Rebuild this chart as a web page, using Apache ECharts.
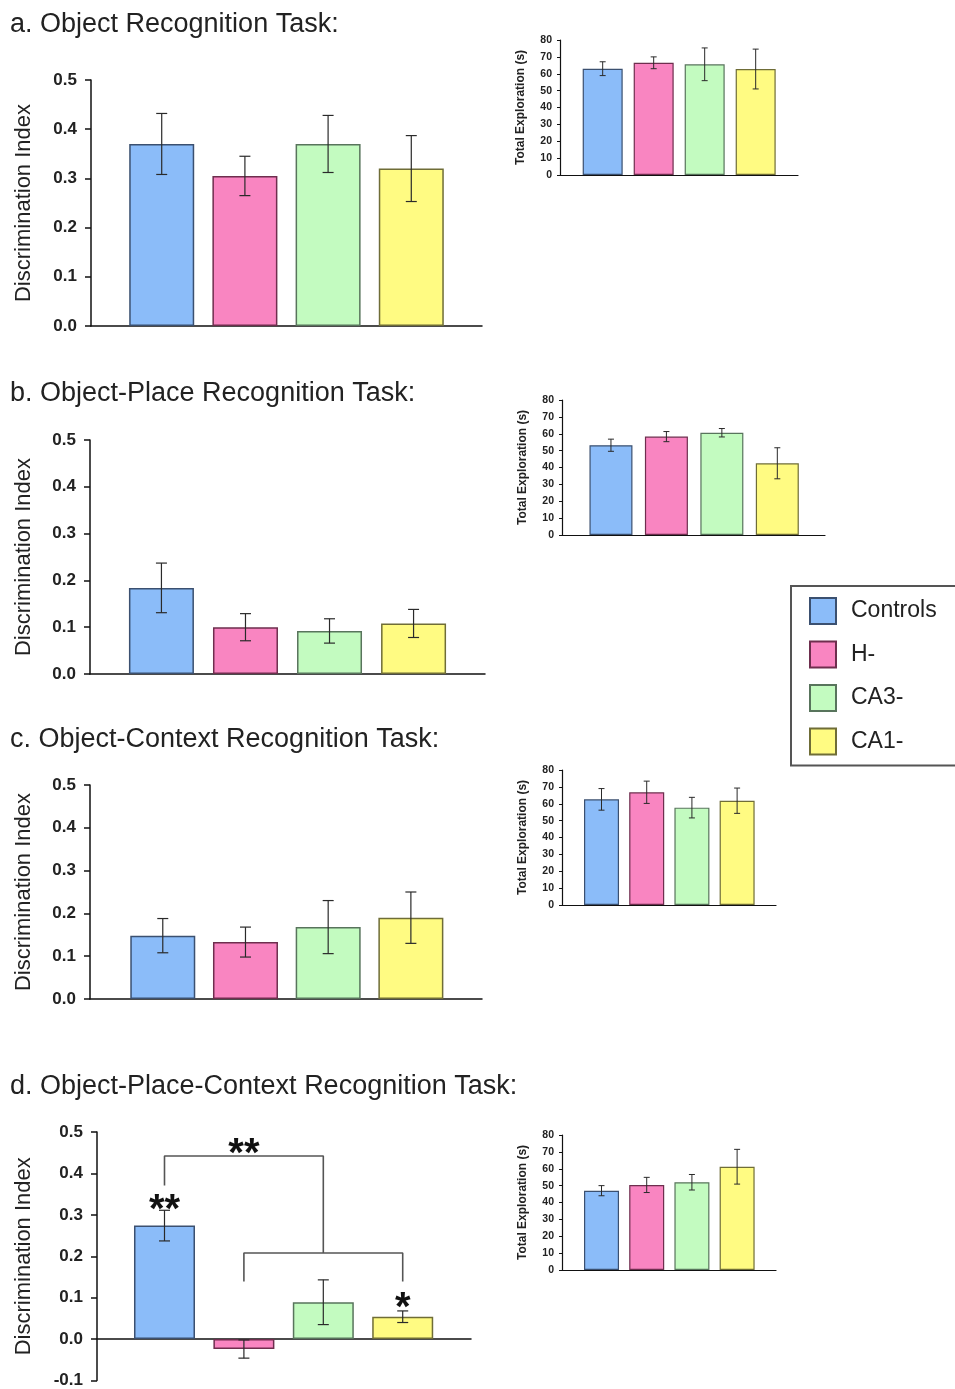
<!DOCTYPE html>
<html><head><meta charset="utf-8">
<script src="https://cdn.jsdelivr.net/npm/echarts@6/dist/echarts.min.js"></script>
<style>html,body{margin:0;padding:0;background:#fff}#c{width:955px;height:1389px}</style>
</head><body><div id="c"></div>
<script>
// ---------- data ----------
const groups = ['Controls', 'H-', 'CA3-', 'CA1-'];
const panelTitles = ['a. Object Recognition Task:', 'b. Object-Place Recognition Task:', 'c. Object-Context Recognition Task:', 'd. Object-Place-Context Recognition Task:'];
const yNameMain = 'Discrimination Index';
const yNameInset = 'Total Exploration (s)';

const diA = [0.370, 0.305, 0.370, 0.320];
const diAErr = [0.062, 0.040, 0.058, 0.067];
const diB = [0.184, 0.100, 0.092, 0.108];
const diBErr = [0.053, 0.029, 0.026, 0.030];
const diC = [0.148, 0.133, 0.168, 0.190];
const diCErr = [0.040, 0.035, 0.062, 0.060];
const diD = [0.274, -0.024, 0.089, 0.054];
const diDErr = [0.037, 0.022, 0.054, 0.014];

const teA = [63.0, 66.5, 65.6, 62.8];
const teAErr = [4.1, 3.5, 9.7, 11.8];
const teB = [53.2, 58.3, 60.6, 42.5];
const teBErr = [3.6, 3.0, 2.5, 9.2];
const teC = [62.6, 66.8, 57.7, 61.8];
const teCErr = [6.4, 6.6, 6.1, 7.5];
const teD = [47.0, 50.4, 52.0, 61.2];
const teDErr = [3.0, 4.5, 4.6, 10.3];

// significance annotations for panel d (group position, DI value)
const bracketUpper = [[1, 0.371], [1, 0.442], [3, 0.442], [3, 0.208]];
const bracketLower = [[2, 0.139], [2, 0.208], [4, 0.208], [4, 0.139]];
const starPos = [[1, 0.330], [2, 0.466], [4, 0.094]];
const starText = ['**', '**', '*'];

// ---------- styles / layout ----------
const fills = ['#8bbcf9', '#f985c1', '#c3fbc0', '#fffb82'];
const borders = ['#3b5070', '#6e2e4e', '#58745c', '#6f6d37'];
const FONT = '"Liberation Sans", Arial, sans-serif';
const AX = '#111';

const mainLayout = [
  {left: 91, top: 80, width: 391, height: 246, xmin: 0.15, xmax: 4.85, bw: 65, ymin: 0, ymax: 0.5, gap: 56},
  {left: 90, top: 440, width: 395, height: 234, xmin: 0.15, xmax: 4.85, bw: 65, ymin: 0, ymax: 0.5, gap: 55},
  {left: 90, top: 785, width: 392, height: 214, xmin: 0.12, xmax: 4.86, bw: 65, ymin: 0, ymax: 0.5, gap: 55},
  {left: 97, top: 1132, width: 374, height: 250, xmin: 0.15, xmax: 4.86, bw: 61, ymin: -0.1, ymax: 0.5, gap: 62}
];
const insetLayout = [
  {left: 560, top: 40, width: 238, height: 135, xmin: 0.163, xmax: 4.83, bw: 40},
  {left: 562, top: 400, width: 263, height: 135, xmin: 0.117, xmax: 4.86, bw: 43},
  {left: 562, top: 770, width: 214, height: 135, xmin: 0.126, xmax: 4.86, bw: 35},
  {left: 562, top: 1135, width: 214, height: 135, xmin: 0.126, xmax: 4.86, bw: 35}
];
const titleCenterY = [23, 392, 738, 1085];

const mainVals = [diA, diB, diC, diD];
const mainErrs = [diAErr, diBErr, diCErr, diDErr];
const insetVals = [teA, teB, teC, teD];
const insetErrs = [teAErr, teBErr, teCErr, teDErr];

const grids = [], xAxes = [], yAxes = [], series = [];

function errRender(cap, lw) {
  return function (params, api) {
    const x = api.value(0), lo = api.value(1), hi = api.value(2);
    const a = api.coord([x, hi]), b = api.coord([x, lo]);
    const st = {stroke: '#2a2a2a', lineWidth: lw};
    return {type: 'group', children: [
      {type: 'line', shape: {x1: a[0], y1: a[1], x2: b[0], y2: b[1]}, style: st},
      {type: 'line', shape: {x1: a[0] - cap / 2, y1: a[1], x2: a[0] + cap / 2, y2: a[1]}, style: st},
      {type: 'line', shape: {x1: b[0] - cap / 2, y1: b[1], x2: b[0] + cap / 2, y2: b[1]}, style: st}
    ]};
  };
}

function addPanel(L, vals, errs, isMain) {
  const gi = grids.length;
  grids.push({left: L.left, top: L.top, width: L.width, height: L.height, containLabel: false});
  xAxes.push({
    type: 'value', gridIndex: gi, min: L.xmin, max: L.xmax,
    axisLine: {show: true, onZero: true, lineStyle: {color: AX, width: isMain ? 1.5 : 1.2}},
    axisTick: {show: false}, axisLabel: {show: false}, splitLine: {show: false}
  });
  yAxes.push(isMain ? {
    type: 'value', gridIndex: gi, min: L.ymin, max: L.ymax, interval: 0.1,
    axisLine: {show: true, onZero: false, lineStyle: {color: AX, width: 1.5}},
    axisTick: {show: true, length: 6, lineStyle: {color: AX, width: 1.5}},
    axisLabel: {formatter: v => (Math.abs(v) < 1e-9 ? 0 : v).toFixed(1), fontSize: 17, fontWeight: 'bold', color: '#222', margin: 14, fontFamily: FONT},
    splitLine: {show: false},
    name: yNameMain, nameLocation: 'middle', nameGap: L.gap,
    nameTextStyle: {fontSize: 22, color: '#222', fontFamily: FONT}
  } : {
    type: 'value', gridIndex: gi, min: 0, max: 80, interval: 10,
    axisLine: {show: true, onZero: false, lineStyle: {color: AX, width: 1.2}},
    axisTick: {show: true, length: 3, lineStyle: {color: AX, width: 1}},
    axisLabel: {fontSize: 10.5, fontWeight: 'bold', color: '#222', margin: 8, fontFamily: FONT},
    splitLine: {show: false},
    name: yNameInset, nameLocation: 'middle', nameGap: 33,
    nameTextStyle: {fontSize: 12, fontWeight: 'bold', color: '#222', fontFamily: FONT}
  });
  series.push({
    type: 'bar', xAxisIndex: gi, yAxisIndex: gi, barWidth: L.bw, silent: true,
    data: vals.map((v, i) => ({value: [i + 1, v], itemStyle: {color: fills[i], borderColor: borders[i], borderWidth: isMain ? 1.5 : 1.2}}))
  });
  series.push({
    type: 'custom', xAxisIndex: gi, yAxisIndex: gi, silent: true, z: 5,
    renderItem: errRender(isMain ? 11 : 6, isMain ? 1.2 : 1),
    data: vals.map((v, i) => [i + 1, v - errs[i], v + errs[i]])
  });
  return gi;
}

const mainIdx = [];
for (let p = 0; p < 4; p++) {
  mainIdx.push(addPanel(mainLayout[p], mainVals[p], mainErrs[p], true));
  addPanel(insetLayout[p], insetVals[p], insetErrs[p], false);
}

// significance marks on panel d
const dG = mainIdx[3];
[bracketUpper, bracketLower].forEach(br => series.push({
  type: 'line', xAxisIndex: dG, yAxisIndex: dG, data: br, symbol: 'none', silent: true,
  lineStyle: {color: '#555', width: 1.6}, z: 4
}));
series.push({
  type: 'custom', xAxisIndex: dG, yAxisIndex: dG, silent: true, z: 6,
  renderItem: function (params, api) {
    const p = api.coord([api.value(0), api.value(1)]);
    return {type: 'text', x: p[0], y: p[1] + 9, style: {text: starText[params.dataIndex], fontSize: 40, fontWeight: 'bold', fontFamily: FONT, fill: '#111', align: 'center', verticalAlign: 'middle'}};
  },
  data: starPos
});

// legend (hidden helper grid)
const hg = grids.length;
grids.push({left: -200, top: -200, width: 10, height: 10});
xAxes.push({type: 'value', gridIndex: hg, show: false});
yAxes.push({type: 'value', gridIndex: hg, show: false});
groups.forEach((g, i) => series.push({
  type: 'bar', name: g, xAxisIndex: hg, yAxisIndex: hg, data: [],
  itemStyle: {color: fills[i], borderColor: borders[i], borderWidth: 1.5}
}));

const titles = panelTitles.map((t, i) => ({
  text: t, left: 10, top: titleCenterY[i] - 12, padding: 0,
  textStyle: {fontSize: 27, fontWeight: 'normal', color: '#222', fontFamily: FONT}
}));

const chart = echarts.init(document.getElementById('c'), null, {renderer: 'canvas'});
chart.setOption({
  animation: false,
  backgroundColor: '#fff',
  title: titles,
  legend: {
    orient: 'vertical', left: 791, top: 586, itemWidth: 26, itemHeight: 26, itemGap: 15.5,
    padding: [11, 40, 10, 18], borderColor: '#555', borderWidth: 2, icon: 'rect', selectedMode: false,
    textStyle: {fontSize: 23, lineHeight: 26, color: '#222', fontFamily: FONT, padding: [0, 0, 0, 10]},
    data: groups
  },
  grid: grids, xAxis: xAxes, yAxis: yAxes, series: series
});
</script></body></html>
